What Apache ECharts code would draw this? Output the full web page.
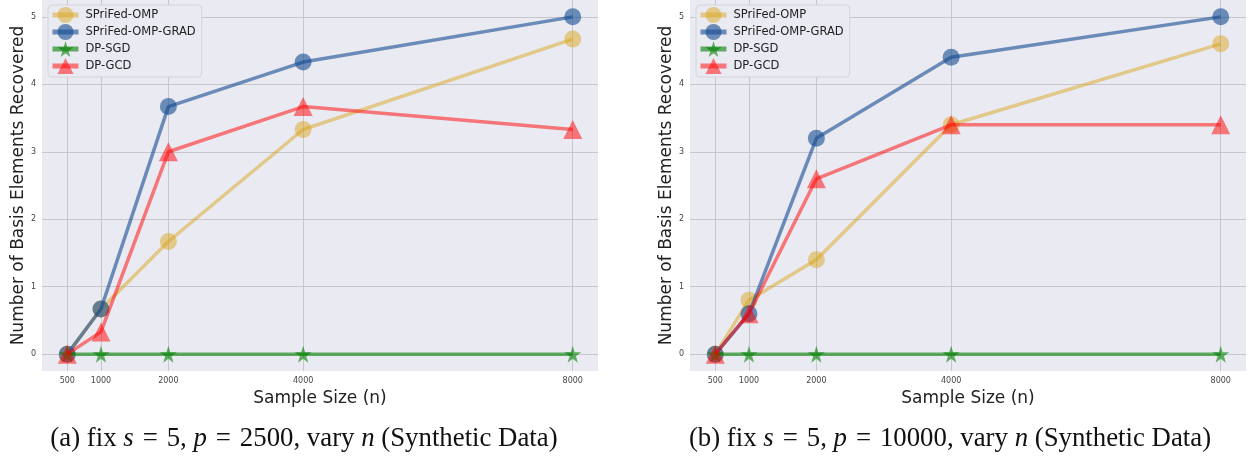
<!DOCTYPE html>
<html><head><meta charset="utf-8">
<script src="https://cdn.jsdelivr.net/npm/echarts@6/dist/echarts.min.js"></script>
<style>html,body{margin:0;padding:0;background:#fff}#c{width:1249px;height:457px}</style>
</head><body><div id="c"></div>
<script>
const sampleSizes = [500, 1000, 2000, 4000, 8000];
const yTicks = [0, 1, 2, 3, 4, 5];
const seriesNames = ['SPriFed-OMP', 'SPriFed-OMP-GRAD', 'DP-SGD', 'DP-GCD'];
// panel (a): s=5, p=2500
const ompA  = [0, 0.67, 1.67, 3.33, 4.67];
const gradA = [0, 0.67, 3.67, 4.33, 5.0];
const sgdA  = [0, 0, 0, 0, 0];
const gcdA  = [0, 0.33, 3.0, 3.67, 3.33];
// panel (b): s=5, p=10000
const ompB  = [0, 0.8, 1.4, 3.4, 4.6];
const gradB = [0, 0.6, 3.2, 4.4, 5.0];
const sgdB  = [0, 0, 0, 0, 0];
const gcdB  = [0, 0.6, 2.6, 3.4, 3.4];

const STAR = 'path://M50,0 L61,35 L98,35 L68,57 L79,91 L50,70 L21,91 L32,57 L2,35 L39,35 Z';
const styles = [
  {color:'rgba(218,165,32,0.5)', symbol:'circle', size:17},
  {color:'rgba(20,75,145,0.6)', symbol:'circle', size:17},
  {color:'rgba(0,128,0,0.6)', symbol:STAR, size:17},
  {color:'rgba(255,0,0,0.5)', symbol:'triangle', size:19}
];
const gridC = '#c6c6cc';
function mkSeries(vals, idx){
  return vals.map((v,i)=>({
    name: seriesNames[i], type:'line', xAxisIndex:idx, yAxisIndex:idx,
    data: sampleSizes.map((x,j)=>[x, v[j]]),
    symbol: styles[i].symbol, symbolSize: styles[i].size,
    lineStyle:{color:styles[i].color, width:3.5},
    itemStyle:{color:styles[i].color},
    emphasis:{disabled:true}, animation:false, z: 2+i
  }));
}
function xAx(idx){
  return {type:'value', gridIndex:idx, min:125, max:8375,
    name:'Sample Size (n)', nameLocation:'middle', nameGap:18,
    nameTextStyle:{fontFamily:'DejaVu Sans', fontSize:17, color:'#222'},
    axisLine:{show:false}, axisTick:{show:false, customValues:sampleSizes},
    axisLabel:{customValues:sampleSizes, formatter:v=>String(v), fontFamily:'DejaVu Sans', fontSize:8, color:'#444', margin:6},
    splitLine:{show:true, lineStyle:{color:gridC, width:1}}};
}
function yAx(idx){
  return {type:'value', gridIndex:idx, min:-0.25, max:5.25,
    name:'Number of Basis Elements Recovered', nameLocation:'middle', nameGap:15, nameRotate:90,
    nameTextStyle:{fontFamily:'DejaVu Sans', fontSize:17, color:'#222'},
    axisLine:{show:false}, axisTick:{show:false, customValues:yTicks},
    axisLabel:{customValues:yTicks, formatter:v=>String(v), fontFamily:'DejaVu Sans', fontSize:8, color:'#444', margin:6},
    splitLine:{show:true, lineStyle:{color:gridC, width:1}}};
}
function legend(left){
  return {data:seriesNames, orient:'vertical', left:left, top:5, itemGap:1,
    itemWidth:26, itemHeight:20, backgroundColor:'#eaeaf2', borderColor:'#d4d4da', borderWidth:1,
    borderRadius:4, padding:[2,6,3,2],
    lineStyle:{width:5},
    textStyle:{fontFamily:'DejaVu Sans', fontSize:11.5, color:'#222', padding:[0,0,0,2]}};
}
const capStyle = {fontFamily:'Liberation Serif', fontSize:26.8, fontWeight:'normal', color:'#111',
  rich:{i:{fontFamily:'Liberation Serif', fontSize:26.8, fontStyle:'italic', fontWeight:'normal', color:'#111'}}};
const E = '\u2004';
const chart = echarts.init(document.getElementById('c'), null, {renderer:'canvas'});
chart.setOption({
  animation:false,
  backgroundColor:'#fff',
  grid:[
    {left:42, top:0, width:556, height:371, show:true, backgroundColor:'#eaeaf2', borderWidth:0},
    {left:690, top:0, width:556, height:371, show:true, backgroundColor:'#eaeaf2', borderWidth:0}
  ],
  xAxis:[xAx(0), xAx(1)],
  yAxis:[yAx(0), yAx(1)],
  legend:[legend(48), legend(696)],
  title:[
    {text:'(a) fix {i|s}'+E+'='+E+'5, {i|p}'+E+'='+E+'2500, vary {i|n} (Synthetic Data)', left:304, textAlign:'center', top:425, textStyle:capStyle, padding:0},
    {text:'(b) fix {i|s}'+E+'='+E+'5, {i|p}'+E+'='+E+'10000, vary {i|n} (Synthetic Data)', left:950, textAlign:'center', top:425, textStyle:capStyle, padding:0}
  ],
  series:[...mkSeries([ompA, gradA, sgdA, gcdA], 0), ...mkSeries([ompB, gradB, sgdB, gcdB], 1)]
});
</script></body></html>
